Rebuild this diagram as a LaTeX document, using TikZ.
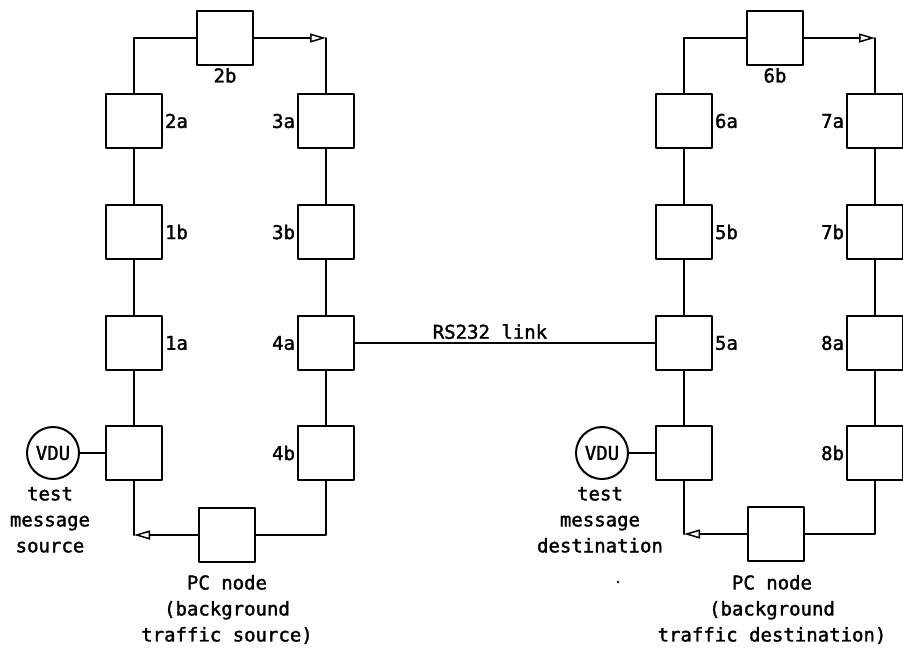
\documentclass[tikz,border=0pt]{standalone}
\usepackage{fontspec}
\setmainfont{DejaVu Sans Mono}
\usetikzlibrary{arrows.meta}

\begin{document}
\begin{tikzpicture}[x=1pt, y=-1pt, font=\fontsize{19}{26}\selectfont\addfontfeature{FakeBold=1.6}, line width=2pt, line join=round, line cap=round,
		>={Triangle[open, length=16pt, width=9pt, line width=1.5pt]},
		box/.style={draw, minimum width=56pt, minimum height=54pt, inner sep=0pt},
		vdu/.style={draw, circle, minimum size=52pt, inner sep=0pt},
		lab/.style={inner sep=1pt},
		txt/.style={align=center, anchor=north, inner sep=0pt}]
	\useasboundingbox (0,0) rectangle (903,657);
	% source ring
	\node[box] (n1c) at (134,453) {};
	\node[box] (n1a) at (134,343) {};
	\node[box] (n1b) at (134,232) {};
	\node[box] (n2a) at (134,121) {};
	\node[box] (n2b) at (225,38) {};
	\node[box] (n3a) at (326,121) {};
	\node[box] (n3b) at (326,232) {};
	\node[box] (n4a) at (326,343) {};
	\node[box] (n4b) at (326,453) {};
	\node[box] (pcs) at (227,535) {};
	\node[vdu] (vdus) at (53,453) {VDU};
	\node[lab, right] (l1a) at (n1a.east) {1a};
	\node[lab, right] (l1b) at (n1b.east) {1b};
	\node[lab, right] (l2a) at (n2a.east) {2a};
	\node[lab, below] (l2b) at (n2b.south) {2b};
	\node[lab, left] (l3a) at (n3a.west) {3a};
	\node[lab, left] (l3b) at (n3b.west) {3b};
	\node[lab, left] (l4a) at (n4a.west) {4a};
	\node[lab, left] (l4b) at (n4b.west) {4b};
	\node[txt] (ts) at (50,486) {test\\message\\source};
	\node[txt] (pts) at (227,574) {PC node\\(background\\traffic source)};
	\coordinate (ctl) at (n2a |- n2b);
	\coordinate (ctr) at (n3a |- n2b);
	\coordinate (cbr) at (n4b |- pcs);
	\coordinate (cbl) at (n1c |- pcs);
	\draw (n1c) -- (n1a) -- (n1b) -- (n2a) -- (ctl) -- (n2b);
	\draw[->] (n2b.east) -- (ctr);
	\draw (ctr) -- (n3a) -- (n3b) -- (n4a) -- (n4b) -- (cbr) -- (pcs);
	\draw[->] (pcs.west) -- (cbl);
	\draw (cbl) -- (n1c.south);
	\draw (vdus) -- (n1c);
	% destination ring
	\node[box] (n5c) at (684,453) {};
	\node[box] (n5a) at (684,343) {};
	\node[box] (n5b) at (684,232) {};
	\node[box] (n6a) at (684,121) {};
	\node[box] (n6b) at (775,38) {};
	\node[box] (n7a) at (875,121) {};
	\node[box] (n7b) at (875,232) {};
	\node[box] (n8a) at (875,343) {};
	\node[box] (n8b) at (875,453) {};
	\node[box] (pcd) at (776,534) {};
	\node[vdu] (vdud) at (602,453) {VDU};
	\node[lab, right] (l5a) at (n5a.east) {5a};
	\node[lab, right] (l5b) at (n5b.east) {5b};
	\node[lab, right] (l6a) at (n6a.east) {6a};
	\node[lab, below] (l6b) at (n6b.south) {6b};
	\node[lab, left] (l7a) at (n7a.west) {7a};
	\node[lab, left] (l7b) at (n7b.west) {7b};
	\node[lab, left] (l8a) at (n8a.west) {8a};
	\node[lab, left] (l8b) at (n8b.west) {8b};
	\node[txt] (td) at (600,486) {test\\message\\destination};
	\node[txt] (ptd) at (772,574) {PC node\\(background\\traffic destination)};
	\coordinate (dtl) at (n6a |- n6b);
	\coordinate (dtr) at (n7a |- n6b);
	\coordinate (dbr) at (n8b |- pcd);
	\coordinate (dbl) at (n5c |- pcd);
	\draw (n5c) -- (n5a) -- (n5b) -- (n6a) -- (dtl) -- (n6b);
	\draw[->] (n6b.east) -- (dtr);
	\draw (dtr) -- (n7a) -- (n7b) -- (n8a) -- (n8b) -- (dbr) -- (pcd);
	\draw[->] (pcd.west) -- (dbl);
	\draw (dbl) -- (n5c.south);
	\draw (vdud) -- (n5c);
	% link
	\draw (n4a) -- node[pos=0.45, above, inner sep=3pt] (rs) {RS232 link} (n5a);
	\fill (618,582) circle (1.3pt);
\end{tikzpicture}
\end{document}
